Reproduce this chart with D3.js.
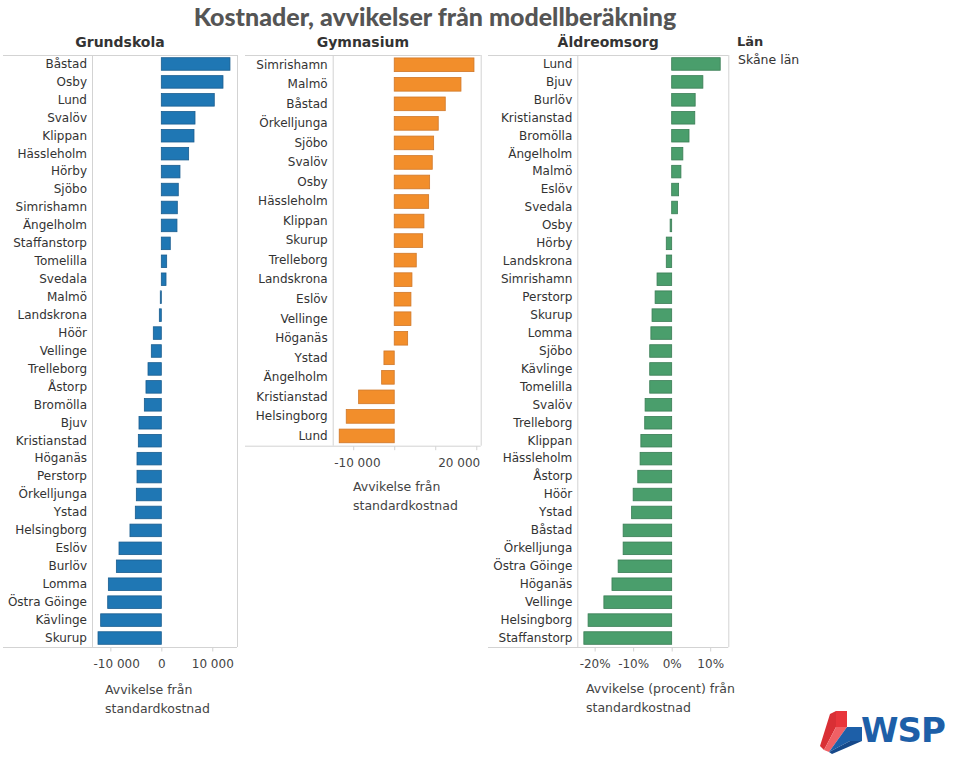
<!DOCTYPE html>
<html>
<head>
<meta charset="utf-8">
<script src="https://cdn.jsdelivr.net/npm/d3@7"></script>
<style>
  html, body { margin: 0; padding: 0; background: #fff; }
  svg { display: block; }
</style>
</head>
<body>
<svg id="chart" width="960" height="757"></svg>
<script>
// ---------- DATA ----------
const grundCategories = ["Båstad","Osby","Lund","Svalöv","Klippan","Hässleholm","Hörby","Sjöbo","Simrishamn","Ängelholm","Staffanstorp","Tomelilla","Svedala","Malmö","Landskrona","Höör","Vellinge","Trelleborg","Åstorp","Bromölla","Bjuv","Kristianstad","Höganäs","Perstorp","Örkelljunga","Ystad","Helsingborg","Eslöv","Burlöv","Lomma","Östra Göinge","Kävlinge","Skurup"];
const grundValues = [13470,12100,10390,6610,6410,5360,3660,3330,3140,3070,1760,1050,920,-200,-390,-1570,-1960,-2610,-3010,-3330,-4380,-4510,-4770,-4770,-4900,-5100,-6150,-8300,-8820,-10390,-10520,-11900,-12420];

const gymCategories = ["Simrishamn","Malmö","Båstad","Örkelljunga","Sjöbo","Svalöv","Osby","Hässleholm","Klippan","Skurup","Trelleborg","Landskrona","Eslöv","Vellinge","Höganäs","Ystad","Ängelholm","Kristianstad","Helsingborg","Lund"];
const gymValues = [19440,16270,12440,10730,9610,9270,8630,8390,7240,6930,5370,4320,4070,4070,3270,-2510,-3070,-8680,-11700,-13410];

const aldreCategories = ["Lund","Bjuv","Burlöv","Kristianstad","Bromölla","Ängelholm","Malmö","Eslöv","Svedala","Osby","Hörby","Landskrona","Simrishamn","Perstorp","Skurup","Lomma","Sjöbo","Kävlinge","Tomelilla","Svalöv","Trelleborg","Klippan","Hässleholm","Åstorp","Höör","Ystad","Båstad","Örkelljunga","Östra Göinge","Höganäs","Vellinge","Helsingborg","Staffanstorp"];
const aldreValues = [12.6,8.1,6.1,6.0,4.5,2.9,2.4,1.8,1.5,-0.4,-1.4,-1.4,-3.8,-4.3,-5.1,-5.4,-5.7,-5.7,-5.7,-6.9,-7.0,-8.0,-8.2,-8.8,-10.0,-10.4,-12.6,-12.6,-13.9,-15.5,-17.6,-21.7,-22.8];

const grundTicks = [-10000, 0, 10000];
const grundTickLabels = ["-10 000", "0", "10 000"];
const gymTicks = [-10000, 0, 10000, 20000];
const gymTickLabels = ["-10 000", "", "", "20 000"];
const aldreTicks = [-20, -10, 0, 10];
const aldreTickLabels = ["-20%", "-10%", "0%", "10%"];

const panelTitles = ["Grundskola", "Gymnasium", "Äldreomsorg"];
const axisTitles = [["Avvikelse från", "standardkostnad"], ["Avvikelse från", "standardkostnad"], ["Avvikelse (procent) från", "standardkostnad"]];
const chartTitle = "Kostnader, avvikelser från modellberäkning";
const legendTitle = "Län";
const legendItems = ["Skåne län"];

// ---------- DRAW ----------
const svg = d3.select("#chart");
const FONT = "'DejaVu Sans', sans-serif";
const gridCol = "#d3d3d3";

svg.append("text")
  .attr("x", 435).attr("y", 26)
  .attr("text-anchor", "middle")
  .attr("font-family", "Lato, sans-serif")
  .attr("font-weight", 900)
  .attr("font-size", 25)
  .attr("fill", "#555")
  .text(chartTitle);

function panel(opt) {
  const g = svg.append("g");
  const y = d3.scaleBand().domain(opt.categories)
    .range([opt.top, opt.bottom]).paddingInner(0.3).paddingOuter(0.15);
  const x = d3.scaleLinear().domain(opt.domain).range([opt.axisX, opt.right]);

  // title
  g.append("text")
    .attr("x", (opt.headLeft + opt.right) / 2).attr("y", 47)
    .attr("text-anchor", "middle")
    .attr("font-family", FONT).attr("font-weight", "bold").attr("font-size", 14)
    .attr("fill", "#333").text(opt.title);

  // borders
  g.append("line").attr("x1", opt.headLeft).attr("x2", opt.right)
    .attr("y1", opt.top + 0.5).attr("y2", opt.top + 0.5).attr("stroke", gridCol);
  g.append("line").attr("x1", opt.headLeft).attr("x2", opt.right)
    .attr("y1", opt.bottom + 0.5).attr("y2", opt.bottom + 0.5).attr("stroke", gridCol);
  g.append("line").attr("x1", opt.axisX + 0.5).attr("x2", opt.axisX + 0.5)
    .attr("y1", opt.top).attr("y2", opt.bottom).attr("stroke", gridCol);
  g.append("line").attr("x1", opt.right + 0.5).attr("x2", opt.right + 0.5)
    .attr("y1", opt.top).attr("y2", opt.bottom).attr("stroke", gridCol);

  // bars
  g.append("g").selectAll("rect").data(opt.values).join("rect")
    .attr("x", d => x(Math.min(0, d)))
    .attr("width", d => Math.max(1, Math.abs(x(d) - x(0))))
    .attr("y", (d, i) => y(opt.categories[i]))
    .attr("height", y.bandwidth())
    .attr("fill", opt.color)
    .attr("stroke", opt.stroke).attr("stroke-width", 0.8);

  // y axis labels
  const ya = g.append("g").attr("transform", `translate(${opt.axisX},0)`)
    .call(d3.axisLeft(y).tickSize(0).tickPadding(5));
  ya.select(".domain").remove();
  ya.selectAll("text").attr("font-family", FONT).attr("font-size", 12).attr("fill", "#333");

  // x axis
  const xa = g.append("g").attr("transform", `translate(0,${opt.bottom + 0.5})`)
    .call(d3.axisBottom(x).tickValues(opt.ticks).tickSize(4).tickPadding(6)
      .tickFormat((d, i) => opt.tickLabels[i]));
  xa.select(".domain").remove();
  xa.selectAll(".tick line").attr("stroke", gridCol);
  xa.selectAll("text").attr("font-family", FONT).attr("font-size", 12).attr("fill", "#444")
    .attr("dy", "0.9em");
  // keep labels inside pane
  xa.selectAll(".tick").each(function (d) {
    const t = d3.select(this).select("text");
    const w = t.node().getComputedTextLength();
    const cx = x(d);
    if (cx - w / 2 < opt.axisX) {
      t.attr("text-anchor", "start").attr("x", opt.axisX + 1 - cx);
    } else if (cx + w / 2 > opt.right) {
      t.attr("text-anchor", "end").attr("x", opt.right - 1 - cx);
    }
  });

  // axis title
  const at = g.append("text")
    .attr("font-family", FONT).attr("font-size", 12.5).attr("fill", "#444");
  opt.axisTitle.forEach((line, i) => {
    at.append("tspan").attr("x", opt.atX).attr("y", opt.atY + i * 19).text(line);
  });
}

panel({
  title: panelTitles[0], categories: grundCategories, values: grundValues,
  domain: [-13600, 14850], headLeft: 3, axisX: 92, right: 237, top: 55, bottom: 647,
  color: "#1f77b4", stroke: "#1a5d8f", ticks: grundTicks, tickLabels: grundTickLabels,
  axisTitle: axisTitles[0], atX: 105, atY: 694
});
panel({
  title: panelTitles[1], categories: gymCategories, values: gymValues,
  domain: [-15000, 21080], headLeft: 245, axisX: 332.7, right: 480.7, top: 55, bottom: 445.7,
  color: "#f28e2b", stroke: "#d0782a", ticks: gymTicks, tickLabels: gymTickLabels,
  axisTitle: axisTitles[1], atX: 353, atY: 491
});
panel({
  title: panelTitles[2], categories: aldreCategories, values: aldreValues,
  domain: [-24.5, 14.7], headLeft: 488, axisX: 577.3, right: 728.3, top: 55, bottom: 647,
  color: "#4a9e6c", stroke: "#3a7d55", ticks: aldreTicks, tickLabels: aldreTickLabels,
  axisTitle: axisTitles[2], atX: 586, atY: 693
});

// legend
svg.append("text").attr("x", 737).attr("y", 46)
  .attr("font-family", FONT).attr("font-weight", "bold").attr("font-size", 13)
  .attr("fill", "#333").text(legendTitle);
svg.append("g").selectAll("text").data(legendItems).join("text")
  .attr("x", 738).attr("y", (d, i) => 64 + i * 18)
  .attr("font-family", FONT).attr("font-size", 12.5).attr("fill", "#333").text(d => d);

// WSP logo
const logo = svg.append("g");
logo.append("polygon").attr("points", "836,711 847,711 847,727 836,727").attr("fill", "#e8353b");
logo.append("polygon").attr("points", "830,714 836,711 836,727 824,750 820,746").attr("fill", "#d92f35");
logo.append("polygon").attr("points", "836,727 847,727 829,752 824,750").attr("fill", "#f06065");
logo.append("polygon").attr("points", "847,727 862,727 862,741 850,741 829,752").attr("fill", "#1d5fa8");
logo.append("polygon").attr("points", "850,741 862,741 832,754 829,752").attr("fill", "#16498a");
logo.append("text").attr("x", 861).attr("y", 742)
  .attr("font-family", "'DejaVu Sans', sans-serif").attr("font-weight", "bold")
  .attr("font-size", 34).attr("fill", "#1d5fa8").attr("letter-spacing", -1).text("WSP");
</script>
</body>
</html>
